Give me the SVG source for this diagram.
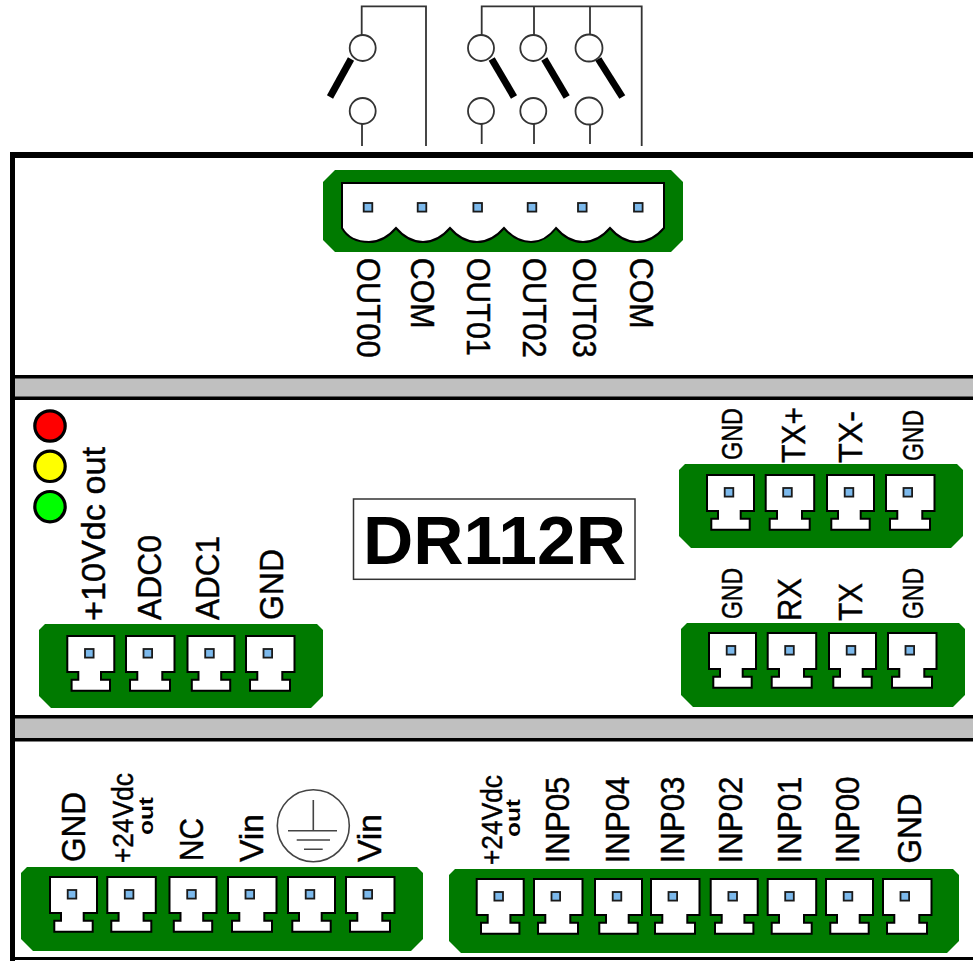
<svg xmlns="http://www.w3.org/2000/svg" xmlns:xlink="http://www.w3.org/1999/xlink" width="973" height="961" viewBox="0 0 973 961">
<style>
text{font-family:"Liberation Sans",Arial,sans-serif;fill:#000}
.l{font-size:34px;stroke:#000;stroke-width:.45}
.s{font-size:30px;stroke:#000;stroke-width:.45}
.o{font-size:21px;font-weight:bold}
.blk{fill:#007a00}
.pin{fill:#fff;stroke:#000;stroke-width:2}
.sq{fill:#7cb9ec;stroke:#1a1a1a;stroke-width:1.8}
.wire{fill:none;stroke:#333;stroke-width:1.8}
.term{fill:#fff;stroke:#333;stroke-width:1.8}
.lever{stroke:#000;stroke-width:7;fill:none}
.led{stroke:#000;stroke-width:3.2}
.band{fill:#c0c0c0}
.fr{fill:#000}
</style>
<defs>
<g id="pa"><path class="pin" d="M0 0H47V36H33.7V43.7H42.7V54.7H4.3V43.7H11V36H0Z"/><rect class="sq" x="17.7" y="13" width="8.6" height="8.6"/></g>
<g id="pb"><path class="pin" d="M0 0H48.5V36H36.3V43.7H44V54.7H4V43.7H11.3V36H0Z"/><rect class="sq" x="17.5" y="13" width="8.6" height="8.6"/></g>
</defs>
<rect width="973" height="961" fill="#fff"/>
<g id="enclosure">
<rect class="band" x="15" y="378" width="958" height="19"/>
<rect class="band" x="15" y="718" width="958" height="21"/>
<rect class="fr" x="10" y="152" width="963" height="6"/>
<rect class="fr" x="10" y="152" width="5" height="809"/>
<rect class="fr" x="10" y="375" width="963" height="3.5"/>
<rect class="fr" x="10" y="396.5" width="963" height="3.5"/>
<rect class="fr" x="10" y="715" width="963" height="3.5"/>
<rect class="fr" x="10" y="738" width="963" height="3.5"/>
<rect class="fr" x="10" y="957" width="963" height="3"/>
</g>
<g id="connectors">
<path class="wire" d="M361.7 36V6.3H426V146"/>
<path class="wire" d="M362 124V146"/>
<path class="wire" d="M481.7 36V6.3H641.7V146"/>
<path class="wire" d="M534 6.3V36M590 6.3V36"/>
<path class="wire" d="M481.7 124V144M534 124V144M590 124V144"/>
</g>
<g id="switch-out00">
<circle class="term" cx="362.7" cy="48" r="13"/><circle class="term" cx="362.7" cy="111" r="13"/>
<path class="lever" d="M351 59L330 97"/>
</g>
<g id="switch-out01">
<circle class="term" cx="481" cy="48" r="13"/><circle class="term" cx="481" cy="111" r="13"/>
<path class="lever" d="M491.7 59L514 97"/>
</g>
<g id="switch-out02">
<circle class="term" cx="533.3" cy="48" r="13"/><circle class="term" cx="533.3" cy="111" r="13"/>
<path class="lever" d="M544.3 59L566.7 97"/>
</g>
<g id="switch-out03">
<circle class="term" cx="589" cy="48" r="13.5"/><circle class="term" cx="589" cy="111" r="13.5"/>
<path class="lever" d="M598.3 59L622.3 97"/>
</g>
<g id="conn-out">
<path class="blk" d="M335 170H671L683 182V240L671 252H335L323 240V182Z"/>
<path class="pin" d="M342 183H664V228Q652 242 637 242Q622 242 610 228Q598 242 583 242Q568 242 556 228Q545 242 531 242Q516 242 504 228Q492 242 477 242Q462 242 450 228Q438 242 423 242Q408 242 396 228Q384 242 369 242Q350 242 342 228Z"/>
<rect class="sq" x="363.7" y="203" width="8.6" height="8.6"/>
<rect class="sq" x="417.7" y="203" width="8.6" height="8.6"/>
<rect class="sq" x="473.4" y="203" width="8.6" height="8.6"/>
<rect class="sq" x="527.7" y="203" width="8.6" height="8.6"/>
<rect class="sq" x="578" y="203" width="8.6" height="8.6"/>
<rect class="sq" x="634" y="203" width="8.6" height="8.6"/>
<text class="l" transform="translate(356.5,257.7) rotate(90)" textLength="100" lengthAdjust="spacingAndGlyphs">OUT00</text>
<text class="l" transform="translate(411,257.7) rotate(90)" textLength="71" lengthAdjust="spacingAndGlyphs">COM</text>
<text class="l" transform="translate(467,257.7) rotate(90)" textLength="98" lengthAdjust="spacingAndGlyphs">OUT01</text>
<text class="l" transform="translate(522.5,257.7) rotate(90)" textLength="100" lengthAdjust="spacingAndGlyphs">OUT02</text>
<text class="l" transform="translate(572.5,257.7) rotate(90)" textLength="100" lengthAdjust="spacingAndGlyphs">OUT03</text>
<text class="l" transform="translate(630,257.7) rotate(90)" textLength="71" lengthAdjust="spacingAndGlyphs">COM</text>
</g>
<g id="leds">
<circle class="led" cx="50" cy="426" r="15.2" fill="#f00"/>
<circle class="led" cx="50" cy="466.3" r="15.2" fill="#ff0"/>
<circle class="led" cx="50" cy="506.7" r="15.2" fill="#0f0"/>
</g>
<g id="model">
<rect x="353.5" y="499" width="281.5" height="80.3" fill="#fff" stroke="#333" stroke-width="1.5"/>
<text x="363" y="564" font-size="68" font-weight="bold" textLength="263" lengthAdjust="spacingAndGlyphs">DR112R</text>
</g>
<g id="conn-adc">
<path class="blk" d="M45 624H317L323 630V696L311 708H51L39 696V630Z"/>
<use href="#pa" x="67.3" y="636"/><use href="#pb" x="126" y="636"/><use href="#pa" x="187.5" y="636"/><use href="#pb" x="246" y="636"/>
<text class="l" transform="translate(105,621) rotate(-90)" textLength="174" lengthAdjust="spacingAndGlyphs">+10Vdc out</text>
<text class="l" transform="translate(161,620) rotate(-90)" textLength="85" lengthAdjust="spacingAndGlyphs">ADC0</text>
<text class="l" transform="translate(219,620) rotate(-90)" textLength="84" lengthAdjust="spacingAndGlyphs">ADC1</text>
<text class="l" transform="translate(283,620) rotate(-90)" textLength="71" lengthAdjust="spacingAndGlyphs">GND</text>
</g>
<g id="conn-tx">
<path class="blk" d="M685 464H957L963 470V536L951 548H691L679 536V470Z"/>
<use href="#pa" x="707" y="475"/><use href="#pb" x="765.7" y="475"/><use href="#pa" x="827" y="475"/><use href="#pb" x="886" y="475"/>
<text class="s" transform="translate(742,460) rotate(-90)" textLength="52" lengthAdjust="spacingAndGlyphs">GND</text>
<text class="l" transform="translate(805,463) rotate(-90)" textLength="56" lengthAdjust="spacingAndGlyphs">TX+</text>
<text class="l" transform="translate(861.5,463) rotate(-90)" textLength="52" lengthAdjust="spacingAndGlyphs">TX-</text>
<text class="s" transform="translate(923,461) rotate(-90)" textLength="51" lengthAdjust="spacingAndGlyphs">GND</text>
</g>
<g id="conn-rx">
<path class="blk" d="M687 623H959L965 629V695L953 707H693L681 695V629Z"/>
<use href="#pa" x="709" y="633"/><use href="#pb" x="767.7" y="633"/><use href="#pa" x="829" y="633"/><use href="#pb" x="888" y="633"/>
<text class="s" transform="translate(742,619) rotate(-90)" textLength="51" lengthAdjust="spacingAndGlyphs">GND</text>
<text class="l" transform="translate(800.5,621) rotate(-90)" textLength="43" lengthAdjust="spacingAndGlyphs">RX</text>
<text class="l" transform="translate(861.5,621) rotate(-90)" textLength="38" lengthAdjust="spacingAndGlyphs">TX</text>
<text class="s" transform="translate(923,619) rotate(-90)" textLength="51" lengthAdjust="spacingAndGlyphs">GND</text>
</g>
<g id="conn-power">
<path class="blk" d="M27 867H417L423 873V939L411 951H33L21 939V873Z"/>
<use href="#pa" x="50" y="877"/><use href="#pb" x="107.3" y="877"/><use href="#pa" x="169.5" y="877"/><use href="#pb" x="228" y="877"/><use href="#pa" x="288" y="877"/><use href="#pb" x="346" y="877"/>
<text class="l" transform="translate(85,862) rotate(-90)" textLength="70" lengthAdjust="spacingAndGlyphs">GND</text>
<text class="s" transform="translate(133.3,863) rotate(-90)" textLength="90" lengthAdjust="spacingAndGlyphs">+24Vdc</text>
<text class="o" transform="translate(153.3,835) rotate(-90)" textLength="38" lengthAdjust="spacingAndGlyphs">out</text>
<text class="l" transform="translate(202.5,861) rotate(-90)" textLength="43" lengthAdjust="spacingAndGlyphs">NC</text>
<text class="l" transform="translate(263,862) rotate(-90)" textLength="48" lengthAdjust="spacingAndGlyphs">Vin</text>
<text class="l" transform="translate(381,862) rotate(-90)" textLength="48" lengthAdjust="spacingAndGlyphs">Vin</text>
</g>
<g id="earth">
<circle cx="313.3" cy="825.7" r="36" fill="#fff" stroke="#444" stroke-width="1.6"/>
<path d="M313.3 800V830.7M288 830.7H337M296.7 840H330M304 849.3H322.7" fill="none" stroke="#444" stroke-width="1.6"/>
</g>
<g id="conn-inputs">
<path class="blk" d="M455 869H953L959 875V941L947 953H461L449 941V875Z"/>
<use href="#pa" x="476.7" y="879"/><use href="#pb" x="534" y="879"/><use href="#pa" x="595" y="879"/><use href="#pb" x="651" y="879"/><use href="#pa" x="710.7" y="879"/><use href="#pb" x="767.7" y="879"/><use href="#pa" x="826" y="879"/><use href="#pb" x="883" y="879"/>
<text class="s" transform="translate(501.7,865) rotate(-90)" textLength="90" lengthAdjust="spacingAndGlyphs">+24Vdc</text>
<text class="o" transform="translate(520,837) rotate(-90)" textLength="38" lengthAdjust="spacingAndGlyphs">out</text>
<text class="l" transform="translate(569.3,863.5) rotate(-90)" textLength="87" lengthAdjust="spacingAndGlyphs">INP05</text>
<text class="l" transform="translate(629.3,863.5) rotate(-90)" textLength="87" lengthAdjust="spacingAndGlyphs">INP04</text>
<text class="l" transform="translate(684.3,863.5) rotate(-90)" textLength="87" lengthAdjust="spacingAndGlyphs">INP03</text>
<text class="l" transform="translate(741.7,863.5) rotate(-90)" textLength="87" lengthAdjust="spacingAndGlyphs">INP02</text>
<text class="l" transform="translate(800.7,863.5) rotate(-90)" textLength="87" lengthAdjust="spacingAndGlyphs">INP01</text>
<text class="l" transform="translate(859.3,863.5) rotate(-90)" textLength="87" lengthAdjust="spacingAndGlyphs">INP00</text>
<text class="l" transform="translate(921,863.5) rotate(-90)" textLength="70" lengthAdjust="spacingAndGlyphs">GND</text>
</g>
</svg>
